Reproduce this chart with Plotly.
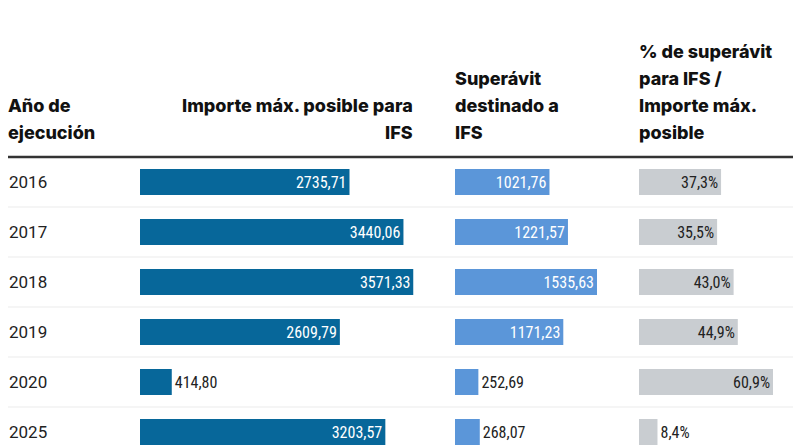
import plotly.graph_objects as go

W, H = 800, 445

years = ["2016", "2017", "2018", "2019", "2020", "2025"]
importe_max = [2735.71, 3440.06, 3571.33, 2609.79, 414.80, 3203.57]
superavit_ifs = [1021.76, 1221.57, 1535.63, 1171.23, 252.69, 268.07]
pct_superavit = [37.3, 35.5, 43.0, 44.9, 60.9, 8.4]

header_year = ["Año de", "ejecución"]
header_importe = ["Importe máx. posible para", "IFS"]
header_superavit = ["Superávit", "destinado a", "IFS"]
header_pct = ["% de superávit", "para IFS /", "Importe máx.", "posible"]

DARK_BLUE = "#07679a"
LIGHT_BLUE = "#5b96d9"
GRAY = "#c9cdd1"
TEXT = "#222222"

VAL_FONT = "Liberation Sans Narrow, Roboto Condensed, Roboto, sans-serif"
BODY_FONT = "Roboto, sans-serif"
HEAD_FONT = "Inter, Roboto, sans-serif"


def px_x(p):
    return p / W


def px_y(p):
    return 1 - p / H


def fmt_num(v):
    return f"{v:.2f}".replace(".", ",")


def fmt_pct(v):
    return f"{v:.1f}".replace(".", ",") + "%"


cols = [
    dict(vals=importe_max, color=DARK_BLUE, inside="white", text=[fmt_num(v) for v in importe_max],
         x0=140, x1=413.5),
    dict(vals=superavit_ifs, color=LIGHT_BLUE, inside="white", text=[fmt_num(v) for v in superavit_ifs],
         x0=455, x1=597),
    dict(vals=pct_superavit, color=GRAY, inside=TEXT, text=[fmt_pct(v) for v in pct_superavit],
         x0=639, x1=773),
]

fig = go.Figure()

row_top = 157
row_h = 50
y_dom_top = px_y(row_top)
y_range = [-0.5 + (H - row_top) / row_h, -0.5]
y_idx = list(range(len(years)))

for i, c in enumerate(cols):
    xa = "x" if i == 0 else f"x{i+1}"
    ya = "y" if i == 0 else f"y{i+1}"
    mx = max(c["vals"])
    widths = [v / mx * (c["x1"] - c["x0"]) for v in c["vals"]]
    pos = ["inside" if w > 48 else "outside" for w in widths]
    fig.add_trace(go.Bar(
        x=c["vals"], y=y_idx, orientation="h",
        marker=dict(color=c["color"], line=dict(width=0)),
        width=0.52,
        text=c["text"], textposition=pos,
        insidetextanchor="end",
        insidetextfont=dict(color=c["inside"], size=16, family=VAL_FONT),
        outsidetextfont=dict(color=TEXT, size=16, family=VAL_FONT),
        textangle=0,
        cliponaxis=False,
        hoverinfo="skip",
        xaxis=xa, yaxis=ya,
    ))
    axkey = "xaxis" if i == 0 else f"xaxis{i+1}"
    aykey = "yaxis" if i == 0 else f"yaxis{i+1}"
    fig.layout[axkey] = dict(domain=[px_x(c["x0"]), px_x(c["x1"])], range=[0, mx],
                             visible=False, fixedrange=True, anchor=ya)
    fig.layout[aykey] = dict(domain=[0, y_dom_top], range=y_range,
                             visible=False, fixedrange=True, anchor=xa)

shapes = []
for k in range(len(years)):
    shapes.append(dict(type="line", xref="paper", yref="y", x0=px_x(8), x1=px_x(793),
                       y0=k + 0.5, y1=k + 0.5, line=dict(color="#ebebeb", width=1)))
shapes.append(dict(type="line", xref="paper", yref="paper", x0=px_x(8), x1=px_x(793),
                   y0=px_y(157), y1=px_y(157), line=dict(color="#333333", width=2.5)))

annotations = []
for k, yr in enumerate(years):
    annotations.append(dict(text=yr, x=px_x(7), y=k, xref="paper", yref="y",
                            xanchor="left", yanchor="middle", showarrow=False,
                            font=dict(family=BODY_FONT, size=17, color=TEXT)))

line_centers = [51, 78, 105, 132]


def add_header(lines, x, anchor):
    n = len(lines)
    for j, t in enumerate(lines):
        annotations.append(dict(text=t, x=px_x(x), y=px_y(line_centers[4 - n + j]),
                                xref="paper", yref="paper", xanchor=anchor, yanchor="middle",
                                showarrow=False,
                                font=dict(family=HEAD_FONT, size=18, color="#111111", weight=800)))


add_header(header_year, 6, "left")
add_header(header_importe, 415, "right")
add_header(header_superavit, 453, "left")
add_header(header_pct, 637, "left")

fig.update_layout(
    width=W, height=H,
    margin=dict(l=0, r=0, t=0, b=0),
    paper_bgcolor="white", plot_bgcolor="white",
    showlegend=False, barmode="overlay",
    shapes=shapes, annotations=annotations,
)

fig.write_html("out.html", config={"displayModeBar": False},
               post_script="document.body.style.margin='0';document.body.style.overflow='hidden';")
